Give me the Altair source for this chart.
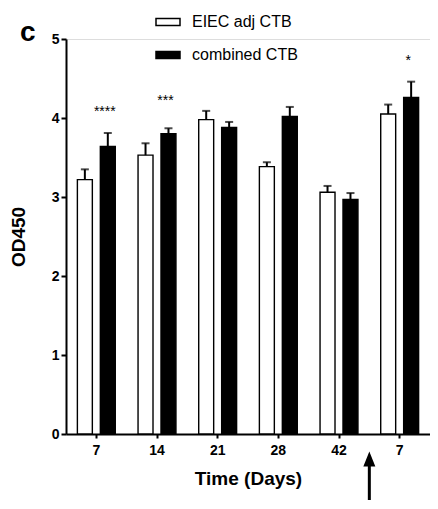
import altair as alt
import pandas as pd

categories = ["d7", "d14", "d21", "d28", "d42", "r7"]
tick_labels = ["7", "14", "21", "28", "42", "7"]
series_names = ["EIEC adj CTB", "combined CTB"]
eiec = [3.22, 3.53, 3.98, 3.385, 3.06, 4.05]
eiec_err = [0.13, 0.15, 0.11, 0.055, 0.08, 0.12]
comb = [3.64, 3.80, 3.88, 4.02, 2.97, 4.26]
comb_err = [0.17, 0.07, 0.07, 0.12, 0.08, 0.20]
star_cats = ["d7", "d14", "r7"]
star_text = ["****", "***", "*"]
star_y = [4.03, 4.16, 4.67]
arrow_cat = ["r7"]

rows = []
for c, v, e in zip(categories, eiec, eiec_err):
    rows.append({"cat": c, "series": series_names[0], "value": v, "upper": v + e})
for c, v, e in zip(categories, comb, comb_err):
    rows.append({"cat": c, "series": series_names[1], "value": v, "upper": v + e})
df = pd.DataFrame(rows)
stars = pd.DataFrame({"cat": star_cats, "text": star_text, "y": star_y,
                      "series": [series_names[1]] * len(star_cats)})
arrow = pd.DataFrame({"cat": arrow_cat})

FONT = "Liberation Sans"
W, H = 364, 395

label_expr = "[" + ",".join(f"'{t}'" for t in tick_labels) + "][indexof([" + \
    ",".join(f"'{c}'" for c in categories) + "], datum.value)]"

xscale = alt.Scale(domain=categories, paddingInner=0, paddingOuter=0)
xaxis = alt.Axis(title="Time (Days)", labelExpr=label_expr, labelAngle=0,
                 labelFont=FONT, labelFontSize=14, labelFontWeight="bold",
                 labelColor="black", labelPadding=5,
                 titleFont=FONT, titleFontSize=19, titleFontWeight="bold",
                 titleColor="black", titlePadding=12,
                 domainColor="black", domainWidth=2,
                 tickColor="black", tickWidth=2, tickSize=4)
yscale = alt.Scale(domain=[0, 5], nice=False)
yaxis = alt.Axis(title="OD450", values=[0, 1, 2, 3, 4, 5], format="d",
                 labelFont=FONT, labelFontSize=14, labelFontWeight="bold",
                 labelColor="black", labelPadding=2,
                 titleFont=FONT, titleFontSize=19, titleFontWeight="bold",
                 titleColor="black", titlePadding=23,
                 domainColor="black", domainWidth=2,
                 tickColor="black", tickWidth=2, tickSize=5, grid=False)
off_scale = alt.Scale(domain=series_names, paddingInner=0.348, paddingOuter=0.496)
xoff = alt.XOffset("series:N", sort=series_names, scale=off_scale)

sym_path = "M-1,-0.29H1V0.29H-1Z"

bars = alt.Chart(df).mark_bar(stroke="black", strokeWidth=1.4).encode(
    x=alt.X("cat:N", scale=xscale, axis=xaxis),
    xOffset=xoff,
    y=alt.Y("value:Q", scale=yscale, axis=yaxis),
    fill=alt.Fill("series:N", sort=series_names,
                  scale=alt.Scale(domain=series_names, range=["white", "black"]),
                  title=None,
                  legend=alt.Legend(orient="none", legendX=89, legendY=-30,
                                    symbolType=sym_path, symbolSize=576,
                                    symbolStrokeColor="black", symbolStrokeWidth=1.5,
                                    labelFont=FONT, labelFontSize=16, labelColor="black",
                                    labelOffset=11, rowPadding=12, padding=0)),
)

err = alt.Chart(df).mark_rule(color="black", strokeWidth=2).encode(
    x=alt.X("cat:N", scale=xscale),
    xOffset=xoff,
    y=alt.Y("value:Q", scale=yscale),
    y2="upper:Q",
)
caps = alt.Chart(df).mark_tick(color="black", size=8, thickness=2, orient="horizontal").encode(
    x=alt.X("cat:N", scale=xscale),
    xOffset=xoff,
    y=alt.Y("upper:Q", scale=yscale),
)
star_marks = alt.Chart(stars).mark_text(font=FONT, fontSize=14, color="black",
                                        baseline="alphabetic", dx=-3).encode(
    x=alt.X("cat:N", scale=xscale),
    xOffset=xoff,
    y=alt.Y("y:Q", scale=yscale),
    text="text:N",
)
shaft = alt.Chart(arrow).mark_rule(color="black", strokeWidth=3).encode(
    x=alt.X("cat:N", scale=xscale, bandPosition=0),
    y=alt.value(H + 32),
    y2=alt.value(H + 66),
)
head = alt.Chart(arrow).mark_point(shape="M0,-1L0.8,1L-0.8,1Z", size=225, filled=True,
                                   color="black", opacity=1).encode(
    x=alt.X("cat:N", scale=xscale, bandPosition=0),
    y=alt.value(H + 25),
)

chart = alt.layer(bars, err, caps, star_marks, shaft, head).properties(
    width=W, height=H,
    autosize=alt.AutoSizeParams(type="none"),
    padding={"left": 58, "top": 31, "right": 0, "bottom": 66},
    title=alt.TitleParams("c", anchor="start", frame="group", font=FONT, fontSize=28,
                          fontWeight="bold", color="black", dx=-46, dy=42),
).configure_view(stroke=None).configure(background="white")

chart.save("out.html", embed_options={"renderer": "svg", "actions": False})
